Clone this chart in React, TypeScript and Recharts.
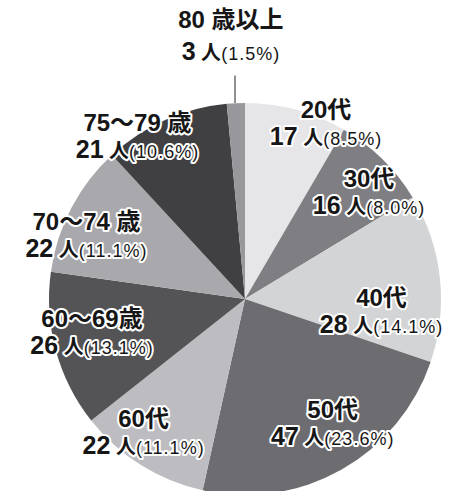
import { Cell, Pie, PieChart } from 'recharts'

const ages = ['20代', '30代', '40代', '50代', '60代', '60～69歳', '70～74 歳', '75～79 歳', '80 歳以上']
const people = [17, 16, 28, 47, 22, 26, 22, 21, 3]
const shares = ['8.5', '8.0', '14.1', '23.6', '11.1', '13.1', '11.1', '10.6', '1.5']

const fills = ['#e6e6e8', '#7f7f83', '#d3d4d6', '#6d6d71', '#bdbdc1', '#545457', '#a9a9ad', '#404042', '#98989c']

// label placement: radius factor and angle tweak (deg) from each slice's mid angle
const place = [
  { r: 0.98, da: -9.8 },
  { r: 0.83, da: -5.1 },
  { r: 0.7, da: -12 },
  { r: 0.78, da: 5.6 },
  { r: 0.86, da: -4.9 },
  { r: 0.8, da: -2.5 },
  { r: 0.87, da: 6 },
  { r: 0.99, da: 9.6 },
  { r: 1.34, da: 0.4 },
]

const data = ages.map((name, i) => ({ name, value: people[i], pct: shares[i] }))

const RAD = Math.PI / 180
const font = '"Liberation Sans", "Noto Sans CJK JP", sans-serif'

function SliceLabel(props: any) {
  const { cx, cy, midAngle, outerRadius, index } = props
  const p = place[index]
  const a = (midAngle + p.da) * RAD
  const x = cx + outerRadius * p.r * Math.cos(-a)
  const y = cy + outerRadius * p.r * Math.sin(-a)
  const d = data[index]
  const gap = index === 8 ? 32 : 27
  return (
    <g>
      {index === 8 && (
        <line
          x1={cx - 10}
          y1={cy - outerRadius * 1.14}
          x2={cx - 10}
          y2={cy - outerRadius}
          stroke="#222"
          strokeWidth={1}
        />
      )}
      <text
        x={x}
        y={y}
        textAnchor="middle"
        fill="#161616"
        fontFamily={font}
        fontWeight="bold"
        stroke="#fff"
        strokeWidth={4}
        strokeLinejoin="round"
        paintOrder="stroke"
      >
        <tspan x={x} dy={-gap / 2 + 7} fontSize={24}>
          {d.name}
        </tspan>
        <tspan x={x} dy={gap} fontSize={25}>
          {d.value}
        </tspan>
        <tspan fontSize={20}> 人</tspan>
        <tspan fontSize={18} fontWeight="normal" letterSpacing={1}>
          ({d.pct}%)
        </tspan>
      </text>
    </g>
  )
}

export default function App() {
  return (
    <div style={{ position: 'absolute', left: 0, top: 0, width: 451, height: 491, background: '#fff' }}>
      <PieChart width={451} height={491}>
        <Pie
          data={data}
          dataKey="value"
          cx={240}
          cy={294}
          outerRadius={196}
          startAngle={90}
          endAngle={-270}
          stroke="none"
          label={SliceLabel}
          labelLine={false}
          isAnimationActive={false}
        >
          {data.map((d, i) => (
            <Cell key={d.name} fill={fills[i]} />
          ))}
        </Pie>
      </PieChart>
    </div>
  )
}
